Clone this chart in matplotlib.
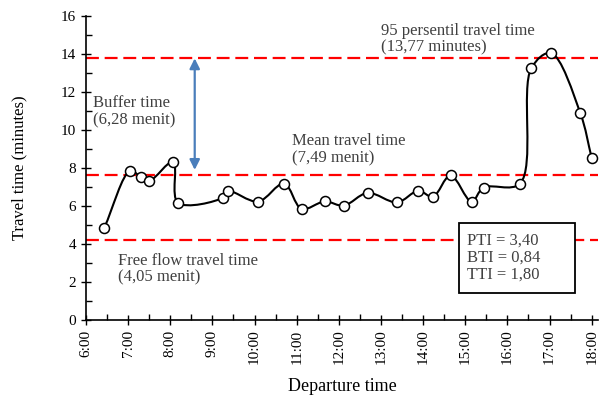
import numpy as np
import matplotlib
matplotlib.use("Agg")
from matplotlib import pyplot as plt
from matplotlib.path import Path
from matplotlib.patches import PathPatch, Rectangle

plt.rcParams['font.family'] = ['Liberation Serif', 'DejaVu Serif']

# departure times and travel times (minutes)
departTimes = ["6:26", "7:03", "7:18", "7:30", "8:04", "8:11", "9:15", "9:22",
               "10:05", "10:42", "11:07", "11:40", "12:07", "12:41", "13:23",
               "13:53", "14:14", "14:39", "15:09", "15:26", "16:18", "16:34",
               "17:02", "17:44", "18:00"]
travelTimes = [4.85, 7.85, 7.53, 7.32, 8.33, 6.17, 6.44, 6.79,
               6.23, 7.18, 5.85, 6.24, 6.02, 6.69, 6.19,
               6.80, 6.49, 7.61, 6.23, 6.97, 7.18, 13.25,
               14.05, 10.87, 8.53]

# reference levels (as drawn)
p95Level = 13.77
meanLevel = 7.65
freeFlowLevel = 4.22

hourTicks = list(range(6, 19))
hourLabels = ["%d:00" % h for h in hourTicks]

annoColor = "#404040"


def toHours(timeList):
    out = []
    for t in timeList:
        h, m = t.split(":")
        out.append(int(h) + int(m) / 60.0)
    return out


def smoothPath(ax, xs, ys):
    # smoothed line like Excel: centripetal Catmull-Rom in screen space -> Bezier
    pts = ax.transData.transform(np.column_stack([xs, ys]))
    n = len(pts)
    ext = np.vstack([2 * pts[0] - pts[1], pts, 2 * pts[-1] - pts[-2]])
    verts = [pts[0]]
    codes = [Path.MOVETO]
    for i in range(n - 1):
        p0, p1, p2, p3 = ext[i], ext[i + 1], ext[i + 2], ext[i + 3]
        d01 = max(np.hypot(*(p1 - p0)) ** 0.5, 1e-6)
        d12 = max(np.hypot(*(p2 - p1)) ** 0.5, 1e-6)
        d23 = max(np.hypot(*(p3 - p2)) ** 0.5, 1e-6)
        m1 = (p1 - p0) / d01 - (p2 - p0) / (d01 + d12) + (p2 - p1) / d12
        m2 = (p2 - p1) / d12 - (p3 - p1) / (d12 + d23) + (p3 - p2) / d23
        c1 = p1 + m1 * d12 / 3.0
        c2 = p2 - m2 * d12 / 3.0
        verts += [c1, c2, p2]
        codes += [Path.CURVE4] * 3
    verts = ax.transData.inverted().transform(np.array(verts))
    return Path(verts, codes)


x = toHours(departTimes)

fig = plt.figure(figsize=(5.99, 4.03), dpi=100)
ax = fig.add_axes([86 / 599, 83 / 403, 512 / 599, 304 / 403])
ax.set_xlim(6, 18.15)
ax.set_ylim(0, 16)

for lvl in (p95Level, meanLevel, freeFlowLevel):
    ax.axhline(lvl, color="#ff0000", lw=1.6, dashes=(5.8, 2.6), zorder=1, clip_on=False)

ax.add_patch(PathPatch(smoothPath(ax, x, travelTimes), facecolor="none",
                       edgecolor="black", lw=1.5, zorder=2))
ax.plot(x, travelTimes, linestyle="none", marker="o", markersize=7.2,
        markerfacecolor="white", markeredgecolor="black", markeredgewidth=1.1, zorder=3)

# buffer time arrow
ax.annotate("", xy=(8.58, p95Level), xytext=(8.58, 7.9),
            arrowprops=dict(arrowstyle="<|-|>", color="#4a7ebb", lw=1.6,
                            mutation_scale=15, shrinkA=0, shrinkB=0))

ax.text(13.01, 15.65, "95 persentil travel time\n(13,77 minutes)", fontsize=12,
        color=annoColor, va="top", ha="left", linespacing=1.1)
ax.text(6.16, 11.85, "Buffer time\n(6,28 menit)", fontsize=12,
        color=annoColor, va="top", ha="left", linespacing=1.1)
ax.text(10.88, 9.82, "Mean travel time\n(7,49 menit)", fontsize=12,
        color=annoColor, va="top", ha="left", linespacing=1.1)
ax.text(6.77, 3.55, "Free flow travel time\n(4,05 menit)", fontsize=12,
        color=annoColor, va="top", ha="left", linespacing=1.1)

ax.add_patch(Rectangle((14.85, 1.44), 17.60 - 14.85, 5.12 - 1.44, facecolor="white",
                       edgecolor="black", lw=1.3, zorder=4))
ax.text(15.03, 4.6, "PTI = 3,40\nBTI = 0,84\nTTI = 1,80", fontsize=12,
        color=annoColor, va="top", ha="left", linespacing=1.08, zorder=5)

ax.set_xticks(hourTicks)
ax.set_xticklabels(hourLabels, rotation=90, fontsize=11)
ax.set_xticks(np.arange(6.5, 18, 1.0), minor=True)
ax.set_yticks(range(0, 17, 2))
ax.set_yticks(range(1, 16, 2), minor=True)
ax.tick_params(axis="y", labelsize=11)
ax.tick_params(which="major", direction="inout", length=7, width=1)
ax.tick_params(which="minor", direction="in", length=4, width=1)

for s in ("top", "right"):
    ax.spines[s].set_visible(False)
for s in ("left", "bottom"):
    ax.spines[s].set_linewidth(1.2)

ax.set_xlabel("Departure time", fontsize=13, labelpad=10)
ax.set_ylabel("Travel time (minutes)", fontsize=12, labelpad=24)

fig.savefig("out.png", dpi=100)
